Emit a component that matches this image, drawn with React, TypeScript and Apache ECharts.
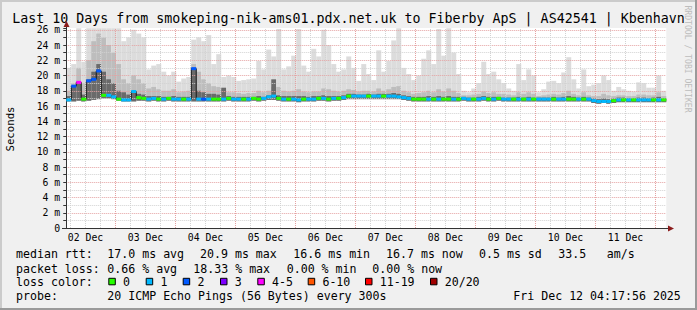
import React, { useEffect, useRef } from "react";
import * as echarts from "echarts";

const titleText = "Last 10 Days from smokeping-nik-ams01.pdx.net.uk to Fiberby ApS | AS42541 | Kbenhavn";
const yAxisName = "Seconds";
const watermark = "RRDTOOL / TOBI OETIKER";

// x axis: hours since 02 Dec 00:00
const dayLabels = ["02 Dec", "03 Dec", "04 Dec", "05 Dec", "06 Dec", "07 Dec", "08 Dec", "09 Dec", "10 Dec", "11 Dec"];
const dayLabelHours = [12, 36, 60, 84, 108, 132, 156, 180, 204, 228];
const startHour = 4.299; // 02 Dec 04:17:56
const endHour = 244.299; // 12 Dec 04:17:56
const binHours = 2;

// values in ms (axis shows "m" = milli-seconds)
const smokeMin = [
  16.6, 16.6, 16.7, 16.6, 16.7, 16.8, 16.9, 17.0, 17.0, 16.9,
  16.7, 16.6, 16.6, 16.6, 16.7, 16.7, 16.6, 16.7, 16.6, 16.6,
  16.7, 16.6, 16.6, 16.6, 16.6, 16.6, 16.6, 16.6, 16.6, 16.6,
  16.6, 16.6, 16.7, 16.6, 16.6, 16.6, 16.6, 16.7, 16.6, 16.7,
  16.8, 16.8, 16.7, 16.6, 16.6, 16.6, 16.5, 16.6, 16.6, 16.6,
  16.7, 16.7, 16.6, 16.7, 16.7, 16.8, 16.9, 16.9, 16.9, 16.9,
  16.9, 16.9, 16.9, 16.9, 16.9, 16.9, 16.9, 16.8, 16.7, 16.6,
  16.6, 16.6, 16.6, 16.6, 16.6, 16.6, 16.6, 16.6, 16.6, 16.7,
  16.6, 16.6, 16.6, 16.7, 16.6, 16.6, 16.7, 16.6, 16.6, 16.6,
  16.6, 16.6, 16.6, 16.6, 16.6, 16.6, 16.6, 16.6, 16.6, 16.6,
  16.6, 16.6, 16.6, 16.6, 16.6, 16.4, 16.3, 16.4, 16.3, 16.4,
  16.5, 16.5, 16.5, 16.5, 16.5, 16.5, 16.5, 16.5, 16.5, 16.5,
];
const smokeMax = [
  21.0, 21.5, 26.2, 21.8, 26.2, 26.2, 26.2, 26.2, 26.2, 26.2,
  26.2, 24.5, 25.0, 26.0, 25.5, 25.0, 20.8, 21.3, 21.5, 20.5,
  20.0, 20.5, 19.2, 19.6, 19.8, 24.7, 25.0, 24.5, 25.3, 21.5,
  22.8, 19.8, 20.0, 19.8, 19.3, 19.4, 19.5, 19.6, 21.9, 20.8,
  23.4, 22.5, 26.1, 20.8, 21.2, 22.6, 26.1, 21.3, 20.5, 23.5,
  22.5, 26.0, 24.0, 21.5, 20.5, 20.8, 22.5, 21.0, 19.3, 21.5,
  20.2, 19.4, 23.3, 20.5, 21.9, 24.6, 26.2, 21.0, 20.2, 19.4,
  20.0, 22.2, 23.3, 21.5, 26.1, 22.6, 26.2, 23.0, 20.2, 18.0,
  17.8, 18.3, 19.0, 21.8, 20.2, 20.5, 19.5, 19.0, 18.3, 18.0,
  21.5, 19.4, 20.8, 20.0, 17.8, 18.2, 19.2, 19.3, 19.0, 20.4,
  22.4, 19.5, 18.3, 20.8, 18.6, 18.8, 19.0, 20.0, 19.4, 18.0,
  18.5, 18.2, 18.0, 17.9, 19.1, 19.0, 18.4, 18.4, 20.0, 18.0,
];
const smokeMid = [
  18.0, 19.0, 21.0, 19.0, 22.0, 24.5, 25.5, 25.0, 24.0, 23.0,
  21.5, 19.5, 19.0, 20.0, 19.5, 19.0, 18.3, 18.5, 18.2, 18.0,
  18.0, 18.2, 17.8, 17.9, 18.0, 21.5, 20.5, 19.5, 19.0, 18.6,
  18.5, 18.2, 17.8, 17.8, 17.7, 17.6, 17.7, 17.7, 18.0, 17.8,
  18.0, 18.5, 18.5, 18.0, 17.9, 18.0, 18.2, 17.9, 17.8, 17.9,
  17.9, 18.3, 18.2, 18.0, 17.9, 18.0, 18.2, 18.1, 17.9, 18.0,
  18.0, 17.9, 18.3, 18.0, 18.2, 18.5, 18.6, 18.0, 17.8, 17.6,
  17.7, 17.8, 18.0, 17.8, 18.2, 17.9, 18.3, 18.0, 17.7, 17.4,
  17.4, 17.5, 17.6, 17.9, 17.7, 17.8, 17.6, 17.6, 17.5, 17.4,
  17.8, 17.6, 17.8, 17.6, 17.3, 17.4, 17.5, 17.6, 17.5, 17.7,
  18.0, 17.6, 17.4, 17.8, 17.4, 17.3, 17.3, 17.6, 17.4, 17.3,
  17.4, 17.4, 17.3, 17.3, 17.5, 17.5, 17.4, 17.4, 17.8, 17.3,
];
const smokeDark = [
  17.3, 18.6, 19.1, 17.5, 19.5, 20.5, 21.5, 20.5, 19.5, 19.0,
  18.0, 17.8, 17.5, 18.0, 17.6, 17.5, 17.3, 17.3, 17.3, 17.2,
  17.2, 17.3, 17.2, 17.2, 17.2, 20.9, 18.0, 17.8, 17.6, 17.6,
  17.5, 18.4, 17.3, 17.2, 17.2, 17.2, 17.2, 17.2, 17.3, 17.2,
  17.4, 19.5, 17.4, 17.3, 17.3, 17.3, 17.3, 17.3, 17.2, 17.3,
  17.3, 17.4, 17.3, 17.3, 17.3, 17.4, 17.6, 17.6, 17.5, 17.5,
  17.6, 17.5, 17.6, 17.6, 17.6, 17.7, 17.6, 17.4, 17.3, 17.2,
  17.2, 17.2, 17.3, 17.2, 17.3, 17.2, 17.3, 17.2, 17.2, 17.2,
  17.1, 17.1, 17.2, 17.3, 17.2, 17.2, 17.2, 17.1, 17.1, 17.1,
  17.2, 17.1, 17.2, 17.1, 17.1, 17.1, 17.1, 17.2, 17.1, 17.2,
  17.3, 17.2, 17.1, 17.2, 17.1, 17.0, 16.9, 17.0, 16.9, 17.0,
  17.1, 17.1, 17.0, 17.0, 17.1, 17.1, 17.0, 17.1, 17.2, 17.0,
];
const medianRtt = [
  16.8, 18.6, 19.1, 16.9, 19.3, 19.5, 20.6, 17.4, 17.4, 17.2,
  16.9, 16.8, 16.8, 17.9, 17.1, 17.0, 16.9, 17.0, 16.9, 16.9,
  17.0, 16.9, 16.9, 16.9, 16.9, 20.9, 16.9, 16.9, 16.9, 16.9,
  16.9, 16.9, 17.0, 16.9, 16.9, 16.9, 16.9, 17.0, 16.9, 17.0,
  17.2, 17.3, 17.0, 16.9, 16.9, 16.9, 16.8, 16.9, 16.9, 16.9,
  17.0, 17.0, 16.9, 17.0, 17.0, 17.1, 17.3, 17.3, 17.3, 17.3,
  17.3, 17.3, 17.3, 17.3, 17.3, 17.3, 17.2, 17.1, 17.0, 16.9,
  16.9, 16.9, 16.9, 16.9, 16.9, 16.9, 16.9, 16.9, 16.9, 17.0,
  16.9, 16.9, 16.9, 17.0, 16.9, 16.9, 17.0, 16.9, 16.9, 16.9,
  16.9, 16.9, 16.9, 16.9, 16.9, 16.9, 16.9, 16.9, 16.9, 16.9,
  16.9, 16.9, 16.9, 16.9, 16.9, 16.7, 16.6, 16.6, 16.6, 16.7,
  16.8, 16.8, 16.8, 16.8, 16.8, 16.8, 16.8, 16.8, 16.8, 16.8,
];
// index into lossColors / lossLabels
const lossClass = [
  1, 2, 4, 0, 2, 2, 2, 0, 1, 1,
  0, 1, 1, 1, 0, 0, 1, 1, 0, 1,
  0, 1, 1, 0, 1, 2, 1, 2, 1, 0,
  0, 1, 0, 1, 1, 0, 1, 0, 0, 1,
  1, 1, 0, 1, 0, 1, 1, 0, 1, 1,
  0, 1, 0, 1, 0, 1, 0, 1, 1, 1,
  0, 1, 1, 0, 1, 1, 1, 1, 1, 0,
  0, 0, 1, 0, 1, 0, 0, 1, 0, 1,
  1, 0, 1, 1, 0, 1, 0, 1, 1, 0,
  1, 0, 1, 0, 1, 1, 1, 0, 1, 1,
  0, 0, 1, 0, 1, 1, 1, 1, 1, 0,
  1, 0, 1, 0, 1, 1, 1, 0, 1, 0,
];
const lossLabels = ["0", "1", "2", "3", "4-5", "6-10", "11-19", "20/20"];
const lossColors = ["#26ff00", "#00b8ff", "#0059ff", "#7e00ff", "#ff00ff", "#ff5500", "#ff0000", "#a10000"];

const rttRow = ["median rtt:", "17.0 ms avg", "20.9 ms max", "16.6 ms min", "16.7 ms now", "0.5 ms sd", "33.5", "am/s"];
const packetLossRow = ["packet loss:", "0.66 % avg", "18.33 % max", "0.00 % min", "0.00 % now"];
const lossColorHead = "loss color:";
const probeRow = ["probe:", "20 ICMP Echo Pings (56 Bytes) every 300s", "Fri Dec 12 04:17:56 2025"];

// ---- layout (pixels) ----
const W = 697;
const H = 310;
const GL = 66.25;
const GT = 28;
const GW = 600;
const GH = 200;
const MONO = "'DejaVu Sans Mono', monospace";
const rttX = [16, 107.3, 200, 293.3, 386, 479, 558.3, 606.7];
const packetLossX = [16, 107.3, 193.3, 286.7, 372.3];
const probeX = [16, 107.3, 513.3];
const boxX = [108.3, 145.7, 182.7, 220, 257.3, 307.7, 365, 430];
const rowY = [253.5, 268.5, 281.5, 296];

const MAJOR = "#e4a2a2";
const MINOR = "#d2d2d2";

export default function App() {
  const ref = useRef<HTMLDivElement>(null);

  useEffect(() => {
    if (!ref.current) return;
    const chart = echarts.init(ref.current, undefined, { renderer: "svg" });

    const smokeData = medianRtt.map((_, i) => {
      const s = startHour + i * binHours;
      return [s, s + binHours, smokeMin[i], smokeDark[i], smokeMid[i], smokeMax[i]];
    });
    const medianData = medianRtt.map((m, i) => {
      const s = startHour + i * binHours;
      return [s, s + binHours, m, lossClass[i]];
    });
    const stepLine: number[][] = [];
    medianRtt.forEach((m, i) => {
      const s = startHour + i * binHours;
      stepLine.push([s, m]);
      stepLine.push([s + binHours, m]);
    });

    const vGrid: any[] = [];
    for (let h = 6; h < endHour; h += 6) {
      vGrid.push({
        xAxis: h,
        lineStyle: { color: h % 24 === 0 ? MAJOR : MINOR, type: [1, 1], width: 1 },
      });
    }

    const textStyle = (x: number, y: number, text: string, size = 11.6) => ({
      type: "text",
      x,
      y,
      silent: true,
      style: {
        text,
        fill: "#000",
        font: `${size}px ${MONO}`,
        textAlign: "left",
        textVerticalAlign: "middle",
      },
    });

    const graphics: any[] = [
      { type: "rect", shape: { x: 0, y: 0, width: W, height: 2 }, style: { fill: "#cbcbcb" }, silent: true },
      { type: "rect", shape: { x: 0, y: 0, width: 2, height: H }, style: { fill: "#cbcbcb" }, silent: true },
      { type: "rect", shape: { x: 0, y: H - 2, width: W, height: 2 }, style: { fill: "#9a9a9a" }, silent: true },
      { type: "rect", shape: { x: W - 2, y: 0, width: 2, height: H }, style: { fill: "#9a9a9a" }, silent: true },
      {
        type: "text",
        x: W / 2,
        y: 18,
        silent: true,
        style: { text: titleText, fill: "#000", font: `13.3px ${MONO}`, textAlign: "center", textVerticalAlign: "middle" },
      },
      {
        type: "text",
        x: 10.5,
        y: 129,
        rotation: Math.PI / 2,
        silent: true,
        style: { text: yAxisName, fill: "#000", font: `10.7px ${MONO}`, textAlign: "center", textVerticalAlign: "middle" },
      },
      {
        type: "text",
        x: 688,
        y: 59,
        rotation: -Math.PI / 2,
        silent: true,
        style: { text: watermark, fill: "#bdbdbd", font: `8.1px ${MONO}`, textAlign: "center", textVerticalAlign: "middle" },
      },
      { type: "line", shape: { x1: 66.5, y1: 25, x2: 66.5, y2: 28 }, style: { stroke: "#333", lineWidth: 1 }, silent: true },
      { type: "line", shape: { x1: 62, y1: 228.5, x2: 66, y2: 228.5 }, style: { stroke: "#333", lineWidth: 1 }, silent: true },
      { type: "line", shape: { x1: 666, y1: 228.5, x2: 669, y2: 228.5 }, style: { stroke: "#333", lineWidth: 1 }, silent: true },
      { type: "polygon", shape: { points: [[63.5, 27], [66.5, 21], [69.5, 27]] }, style: { fill: "#8b1c1c" }, silent: true },
      { type: "polygon", shape: { points: [[668, 225.5], [674, 228.5], [668, 231.5]] }, style: { fill: "#8b1c1c" }, silent: true },
    ];

    rttRow.forEach((t, i) => graphics.push(textStyle(rttX[i], rowY[0], t)));
    packetLossRow.forEach((t, i) => graphics.push(textStyle(packetLossX[i], rowY[1], t)));
    graphics.push(textStyle(16, rowY[2], lossColorHead));
    lossLabels.forEach((t, i) => {
      graphics.push({
        type: "rect",
        silent: true,
        shape: { x: boxX[i] + 0.5, y: rowY[2] - 3.2, width: 6.5, height: 6.5 },
        style: { fill: lossColors[i], stroke: "#000", lineWidth: 1 },
      });
      graphics.push(textStyle(boxX[i] + 14.7, rowY[2], t));
    });
    probeRow.forEach((t, i) => graphics.push(textStyle(probeX[i], rowY[3], t)));

    const option: any = {
      animation: false,
      backgroundColor: "#f0f0f0",
      grid: {
        left: GL,
        top: GT,
        width: GW,
        height: GH,
        show: true,
        backgroundColor: "#ffffff",
        borderWidth: 0,
      },
      xAxis: {
        type: "value",
        min: startHour,
        max: endHour,
        z: 6,
        axisLine: { show: true, lineStyle: { color: "#333", width: 1 } },
        axisTick: { show: false },
        splitLine: { show: false },
        axisLabel: {
          customValues: dayLabelHours,
          formatter: (v: number) => {
            const k = dayLabelHours.indexOf(Math.round(v));
            return k >= 0 ? dayLabels[k] : "";
          },
          fontFamily: MONO,
          fontSize: 9.8,
          color: "#000",
          margin: 4,
        },
      },
      yAxis: {
        type: "value",
        min: 0,
        max: GH / 7.625,
        interval: 1,
        z: 3,
        axisLine: { show: true, lineStyle: { color: "#333", width: 1 } },
        axisTick: { show: true, length: 3, lineStyle: { color: "#333" } },
        axisLabel: {
          formatter: (v: number) => {
            const r = Math.round(v);
            if (Math.abs(v - r) > 1e-6 || r % 2 !== 0 || r > 26) return "";
            return r === 0 ? "0" : `${r} m`;
          },
          fontFamily: MONO,
          fontSize: 9.8,
          color: "#000",
          margin: 6,
        },
        splitLine: {
          show: true,
          showMaxLine: false,
          lineStyle: { color: [MAJOR, MINOR], type: [1, 1], width: 1 },
        },
      },
      graphic: graphics,
      series: [
        {
          type: "custom",
          name: "smoke",
          z: 2,
          clip: true,
          silent: true,
          data: smokeData,
          encode: { x: [0, 1], y: [2, 5] },
          renderItem: (params: any, api: any) => {
            const s = api.value(0);
            const e = api.value(1);
            const lo = api.value(2);
            const base = api.coord([s, lo]);
            const right = api.coord([e, lo])[0];
            const w = right - base[0];
            const mk = (v: number, fill: string) => {
              const top = api.coord([s, v])[1];
              return { type: "rect", shape: { x: base[0], y: top, width: w, height: base[1] - top }, style: { fill } };
            };
            return {
              type: "group",
              children: [mk(api.value(5), "#dcdcdc"), mk(api.value(4), "#bdbdbd"), mk(api.value(3), "#6a6a6a")],
            };
          },
        },
        {
          type: "line",
          name: "grid",
          z: 3,
          silent: true,
          data: [],
          markLine: {
            silent: true,
            symbol: ["none", "none"],
            label: { show: false },
            emphasis: { disabled: true },
            data: vGrid,
          },
        },
        {
          type: "line",
          name: "median",
          z: 4,
          silent: true,
          data: stepLine,
          showSymbol: false,
          symbol: "none",
          lineStyle: { color: "#111", width: 1 },
        },
        {
          type: "custom",
          name: "loss",
          z: 5,
          silent: true,
          data: medianData,
          encode: { x: [0, 1], y: 2 },
          renderItem: (params: any, api: any) => {
            const p0 = api.coord([api.value(0), api.value(2)]);
            const p1 = api.coord([api.value(1), api.value(2)]);
            return {
              type: "rect",
              shape: { x: p0[0], y: p0[1] - 1.5, width: p1[0] - p0[0], height: 3 },
              style: { fill: lossColors[api.value(3)] },
            };
          },
        },
      ],
    };

    chart.setOption(option);
    return () => chart.dispose();
  }, []);

  return (
    <div
      ref={ref}
      style={{ position: "fixed", left: 0, top: 0, width: W, height: H }}
    />
  );
}
